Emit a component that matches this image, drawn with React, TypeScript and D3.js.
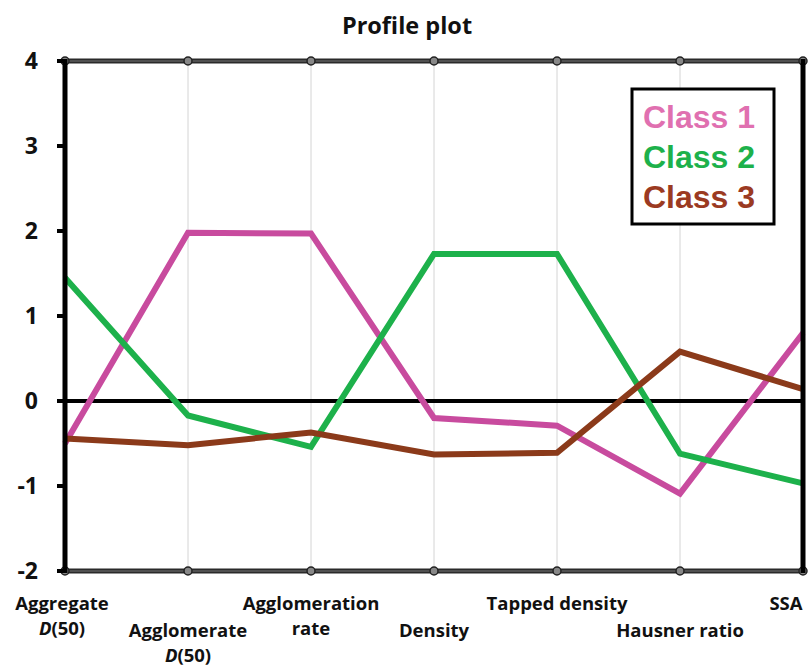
import React from "react";
import * as d3 from "d3";

const categories: string[][] = [
  ["Aggregate", "D(50)"],
  ["Agglomerate", "D(50)"],
  ["Agglomeration", "rate"],
  ["Density"],
  ["Tapped density"],
  ["Hausner ratio"],
  ["SSA"],
];
const class1: number[] = [-0.5, 1.98, 1.97, -0.2, -0.29, -1.09, 0.8];
const class2: number[] = [1.45, -0.17, -0.54, 1.73, 1.73, -0.62, -0.97];
const class3: number[] = [-0.44, -0.52, -0.37, -0.63, -0.61, 0.58, 0.14];
const seriesNames: string[] = ["Class 1", "Class 2", "Class 3"];
const seriesColors: string[] = ["#C84B9E", "#1DB14B", "#8B3A1A"];
const legendColors: string[] = ["#E070B0", "#1DB14B", "#9B3A22"];
const yTicks: number[] = [-2, -1, 0, 1, 2, 3, 4];

const W = 810;
const H = 670;
const left = 65;
const right = 803;
const top = 61;
const bottom = 571;
const labelFont = "'Open Sans', sans-serif";

function Label({ lines, x, row }: { lines: string[]; x: number; row: number }) {
  const y0 = row === 0 ? 610 : 637;
  return (
    <text
      x={x}
      y={y0}
      textAnchor="middle"
      fontFamily={labelFont}
      fontWeight="bold"
      fontSize={18.5}
      fill="#111"
    >
      {lines.map((l, i) => {
        const m = l.match(/^D\((.*)\)$/);
        return (
          <tspan key={i} x={x} dy={i === 0 ? 0 : 25}>
            {m ? (
              <>
                <tspan fontStyle="italic">D</tspan>
                {`(${m[1]})`}
              </>
            ) : (
              l
            )}
          </tspan>
        );
      })}
    </text>
  );
}

export default function App() {
  const x = d3
    .scalePoint<number>()
    .domain(categories.map((_, i) => i))
    .range([left, right]);
  const y = d3.scaleLinear().domain([-2, 4]).range([bottom, top]);
  const line = d3
    .line<number>()
    .x((_, i) => x(i)!)
    .y((d) => y(d));
  const allSeries = [class1, class2, class3];

  return (
    <svg
      width={W}
      height={H}
      style={{ position: "absolute", left: 0, top: 0, background: "#fff" }}
    >
      <text
        x={407}
        y={34}
        textAnchor="middle"
        fontFamily={labelFont}
        fontWeight="bold"
        fontSize={23.5}
        fill="#111"
      >
        Profile plot
      </text>
      {/* vertical gridlines */}
      {categories.map((_, i) => (
        <line
          key={i}
          x1={x(i)}
          x2={x(i)}
          y1={top}
          y2={bottom}
          stroke="#d4d4d4"
          strokeWidth={1}
        />
      ))}
      {/* zero line */}
      <line x1={57} x2={right} y1={y(0)} y2={y(0)} stroke="#000" strokeWidth={4} />
      {/* series */}
      {allSeries.map((s, k) => (
        <path
          key={k}
          d={line(s) || ""}
          fill="none"
          stroke={seriesColors[k]}
          strokeWidth={6}
          strokeLinejoin="miter"
        />
      ))}
      {/* top & bottom lines */}
      {[top, bottom].map((yy, j) => (
        <g key={j}>
          <line x1={left} x2={right} y1={yy} y2={yy} stroke="#2a2a2a" strokeWidth={5} />
          <line x1={left} x2={right} y1={yy} y2={yy} stroke="#777" strokeWidth={1} />
          {categories.map((_, i) => (
            <circle
              key={i}
              cx={x(i)}
              cy={yy}
              r={4}
              fill="#888"
              stroke="#222"
              strokeWidth={1.5}
            />
          ))}
        </g>
      ))}
      {/* left & right axes */}
      <line x1={left} x2={left} y1={top - 2} y2={bottom + 2} stroke="#000" strokeWidth={5} />
      <line x1={right} x2={right} y1={top - 2} y2={bottom + 2} stroke="#000" strokeWidth={5} />
      {yTicks.map((t) => (
        <g key={t}>
          <line x1={57} x2={left} y1={y(t)} y2={y(t)} stroke="#000" strokeWidth={4} />
          <text
            x={38}
            y={y(t)}
            dy="0.36em"
            textAnchor="end"
            fontFamily={labelFont}
            fontWeight="bold"
            fontSize={23}
            fill="#111"
          >
            {t}
          </text>
        </g>
      ))}
      {/* category labels */}
      {categories.map((c, i) => (
        <Label key={i} lines={c} x={i === 6 ? 786 : i === 0 ? 62 : x(i)!} row={i % 2} />
      ))}
      {/* legend */}
      <rect x={632} y={89} width={142} height={135} fill="#fff" stroke="#000" strokeWidth={3} />
      {seriesNames.map((n, k) => (
        <text
          key={n}
          x={643}
          y={128 + k * 40}
          fontFamily="'Liberation Sans', Arial, sans-serif"
          fontWeight="bold"
          fontSize={32}
          fill={legendColors[k]}
        >
          {n}
        </text>
      ))}
    </svg>
  );
}
